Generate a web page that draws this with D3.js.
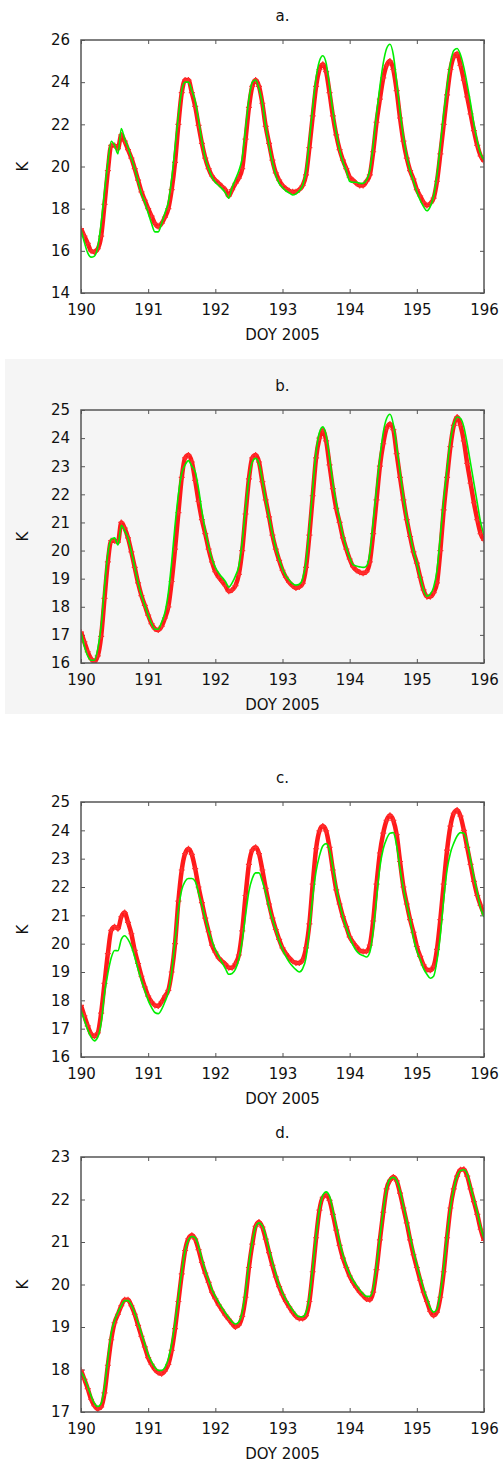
<!DOCTYPE html>
<html>
<head>
<meta charset="utf-8">
<script src="https://cdn.jsdelivr.net/npm/d3@7"></script>
<style>
  body { margin: 0; background: #fff; }
  svg { display: block; }
</style>
</head>
<body>
<svg id="chart" width="503" height="1463"></svg>
<script>
// sampling grid, DOY 190..196 every 0.05 day
const doy = d3.range(121).map(i => +(190 + i * 0.05).toFixed(2));
const xTicks = [190, 191, 192, 193, 194, 195, 196];
const titles = ['a.', 'b.', 'c.', 'd.'];
const xLabel = 'DOY 2005';
const yLabel = 'K';

const yTicksA = [14, 16, 18, 20, 22, 24, 26];
const yTicksB = [16, 17, 18, 19, 20, 21, 22, 23, 24, 25];
const yTicksC = [16, 17, 18, 19, 20, 21, 22, 23, 24, 25];
const yTicksD = [17, 18, 19, 20, 21, 22, 23];

const redA = [17.05,16.7,16.35,16.0,15.95,16.1,16.7,18.2,19.8,21.0,
  21.0,20.85,21.5,21.2,20.8,20.4,19.9,19.35,18.8,18.4,
  18.0,17.65,17.3,17.15,17.3,17.6,18.0,18.9,20.2,22.0,
  23.5,24.1,24.1,23.5,22.85,21.95,21.1,20.4,19.9,19.55,
  19.35,19.2,19.05,18.9,18.6,18.9,19.2,19.45,19.9,21.3,
  22.8,23.8,24.1,23.8,23.0,21.9,21.1,20.3,19.7,19.35,
  19.1,18.95,18.85,18.8,18.8,18.9,19.1,19.6,20.9,22.4,
  23.8,24.6,24.85,24.5,23.5,22.4,21.5,20.8,20.3,19.9,
  19.5,19.35,19.2,19.1,19.1,19.3,19.6,20.7,22.1,23.2,
  24.2,24.8,25.0,24.6,23.6,22.3,21.2,20.4,19.8,19.4,
  18.9,18.6,18.3,18.15,18.25,18.5,19.3,20.6,22.0,23.4,
  24.6,25.2,25.35,24.8,24.1,23.3,22.5,21.7,21.0,20.5,20.25];
const greenA = [17.0,16.4,15.9,15.7,15.75,16.2,17.3,18.8,20.2,21.2,
  21.0,20.6,21.8,21.3,20.9,20.4,19.9,19.3,18.7,18.3,
  17.8,17.3,16.9,16.9,17.3,17.8,18.3,19.4,20.9,22.4,
  23.6,24.0,24.0,23.6,23.1,22.2,21.2,20.4,19.9,19.5,
  19.25,19.1,18.95,18.75,18.5,19.0,19.4,19.8,20.4,21.8,
  23.2,24.0,24.1,23.7,23.0,21.9,21.0,20.2,19.6,19.2,
  19.0,18.85,18.75,18.65,18.7,18.85,19.1,19.8,21.2,22.8,
  24.2,25.0,25.25,24.9,23.8,22.6,21.6,20.8,20.2,19.8,
  19.3,19.25,19.25,19.2,19.2,19.35,19.8,21.0,22.5,23.8,
  24.9,25.6,25.8,25.3,24.0,22.6,21.4,20.5,19.8,19.3,
  18.8,18.4,18.1,17.9,18.1,18.6,19.6,21.0,22.5,23.8,
  24.9,25.5,25.6,25.3,24.7,23.9,23.0,22.0,21.2,20.6,20.3];

const redB = [17.1,16.75,16.4,16.15,16.05,16.25,16.95,18.3,19.6,20.35,
  20.35,20.3,21.0,20.8,20.45,19.95,19.4,18.85,18.4,18.05,
  17.7,17.4,17.22,17.17,17.3,17.6,18.0,18.9,20.05,21.35,
  22.6,23.3,23.4,23.15,22.5,21.75,21.1,20.6,20.05,19.6,
  19.25,19.05,18.9,18.75,18.55,18.6,18.75,19.15,20.0,21.3,
  22.55,23.3,23.4,23.15,22.45,21.8,21.2,20.55,20.05,19.65,
  19.3,19.05,18.87,18.75,18.67,18.7,18.83,19.4,20.55,21.95,
  23.3,24.0,24.28,23.9,23.05,22.2,21.5,21.0,20.45,20.05,
  19.7,19.43,19.3,19.23,19.19,19.25,19.6,20.6,21.8,23.0,
  23.8,24.35,24.5,24.3,23.45,22.6,21.8,21.1,20.5,19.95,
  19.55,19.05,18.6,18.36,18.36,18.5,18.85,20.0,21.45,22.6,
  23.7,24.45,24.75,24.45,23.9,23.1,22.4,21.7,21.1,20.6,20.37];
const greenB = [17.1,16.6,16.25,16.1,16.1,16.5,17.3,18.7,19.9,20.4,
  20.45,20.2,20.9,20.7,20.45,19.95,19.4,18.85,18.4,18.05,
  17.7,17.4,17.2,17.2,17.45,17.8,18.5,19.6,20.9,22.0,
  22.75,23.05,23.2,23.0,22.8,22.2,21.4,20.7,20.15,19.7,
  19.4,19.2,19.05,18.9,18.7,18.85,19.1,19.45,20.3,21.5,
  22.55,23.15,23.28,23.1,22.5,21.8,21.2,20.6,20.1,19.7,
  19.35,19.1,18.95,18.82,18.77,18.8,19.0,19.6,20.8,22.2,
  23.5,24.2,24.4,24.1,23.3,22.4,21.7,21.1,20.55,20.1,
  19.75,19.5,19.45,19.42,19.4,19.45,19.9,21.0,22.2,23.3,
  24.2,24.7,24.85,24.5,23.7,22.8,21.9,21.15,20.55,20.0,
  19.55,19.05,18.6,18.38,18.45,18.7,19.3,20.5,21.8,22.9,
  23.9,24.5,24.75,24.7,24.4,23.8,23.1,22.4,21.7,21.0,20.55];

const redC = [17.82,17.45,17.1,16.82,16.73,16.85,17.55,18.6,19.65,20.47,
  20.6,20.53,20.95,21.1,20.75,20.35,19.76,19.3,18.85,18.47,
  18.15,17.95,17.82,17.8,17.95,18.15,18.35,19.0,20.0,21.5,
  22.6,23.18,23.35,23.15,22.65,22.0,21.45,20.9,20.42,19.95,
  19.7,19.5,19.38,19.28,19.15,19.15,19.3,19.6,20.45,21.7,
  22.8,23.3,23.4,23.18,22.6,21.95,21.4,20.9,20.5,20.15,
  19.85,19.65,19.5,19.38,19.32,19.32,19.43,19.85,20.7,22.1,
  23.35,23.98,24.15,23.98,23.4,22.6,21.9,21.4,20.95,20.6,
  20.24,20.05,19.9,19.76,19.72,19.73,19.95,20.8,22.1,23.2,
  23.9,24.35,24.53,24.35,23.85,22.9,22.0,21.4,20.85,20.4,
  19.9,19.55,19.25,19.08,19.06,19.2,19.8,20.85,22.1,23.3,
  24.15,24.6,24.72,24.5,24.0,23.4,22.8,22.2,21.7,21.35,21.05];
const greenC = [17.65,17.3,16.96,16.7,16.57,16.7,17.2,18.24,18.95,19.5,
  19.76,19.75,20.15,20.28,20.15,19.9,19.53,19.1,18.7,18.35,
  18.0,17.75,17.57,17.53,17.68,17.95,18.28,19.0,20.1,21.2,
  21.9,22.2,22.3,22.3,22.2,21.8,21.35,20.9,20.45,20.1,
  19.78,19.55,19.33,19.12,18.92,18.95,19.1,19.45,20.1,21.0,
  21.85,22.3,22.5,22.5,22.2,21.8,21.3,20.85,20.5,20.1,
  19.8,19.55,19.35,19.2,19.08,19.0,19.12,19.5,20.5,21.65,
  22.55,23.1,23.45,23.53,23.3,22.7,22.0,21.42,20.95,20.55,
  20.24,19.95,19.75,19.63,19.58,19.53,19.7,20.45,21.6,22.7,
  23.35,23.7,23.9,23.92,23.45,22.65,21.95,21.38,20.85,20.2,
  19.75,19.45,19.12,18.92,18.78,18.85,19.4,20.3,21.55,22.6,
  23.2,23.55,23.8,23.92,23.9,23.55,22.95,22.35,21.8,21.25,20.94];

const redD = [17.98,17.77,17.55,17.3,17.15,17.07,17.12,17.45,18.1,18.7,
  19.1,19.3,19.5,19.64,19.64,19.5,19.3,19.04,18.78,18.53,
  18.28,18.12,18.0,17.93,17.9,17.97,18.12,18.45,18.96,19.6,
  20.25,20.8,21.08,21.16,21.07,20.82,20.52,20.27,20.05,19.82,
  19.67,19.52,19.4,19.28,19.18,19.08,19.0,19.05,19.25,19.7,
  20.4,20.95,21.37,21.47,21.35,21.07,20.75,20.45,20.18,19.95,
  19.76,19.6,19.47,19.35,19.25,19.2,19.2,19.27,19.6,20.3,
  21.1,21.75,22.05,22.1,21.98,21.65,21.28,20.92,20.62,20.4,
  20.2,20.05,19.93,19.82,19.74,19.66,19.64,19.82,20.35,21.05,
  21.7,22.25,22.45,22.53,22.44,22.15,21.8,21.45,21.05,20.7,
  20.4,20.1,19.82,19.6,19.37,19.27,19.35,19.7,20.3,21.1,
  21.8,22.25,22.55,22.7,22.71,22.55,22.25,21.95,21.65,21.3,21.04];
const greenD = [17.95,17.8,17.6,17.38,17.2,17.13,17.2,17.6,18.25,18.85,
  19.15,19.35,19.5,19.62,19.62,19.52,19.33,19.1,18.85,18.6,
  18.35,18.18,18.05,17.98,17.98,18.05,18.25,18.6,19.1,19.7,
  20.3,20.8,21.05,21.13,21.1,20.9,20.6,20.33,20.1,19.88,
  19.72,19.58,19.45,19.33,19.22,19.12,19.07,19.12,19.35,19.85,
  20.5,21.0,21.35,21.45,21.38,21.15,20.83,20.52,20.25,20.0,
  19.8,19.65,19.52,19.4,19.3,19.24,19.24,19.35,19.7,20.4,
  21.15,21.75,22.1,22.18,22.08,21.75,21.38,21.0,20.7,20.45,
  20.25,20.1,19.98,19.87,19.78,19.72,19.72,19.9,20.45,21.1,
  21.75,22.25,22.48,22.52,22.45,22.2,21.85,21.5,21.12,20.78,
  20.47,20.17,19.9,19.67,19.45,19.35,19.42,19.8,20.4,21.15,
  21.8,22.25,22.55,22.68,22.7,22.6,22.3,22.0,21.7,21.35,21.08];

const svg = d3.select('#chart');
const font = "'DejaVu Sans', sans-serif";
const frameColor = '#555';
const left = 81, right = 484;

const panels = [
  {title: titles[0], top: 40, bottom: 293, yDomain: [14, 26], yTicks: yTicksA, red: redA, green: greenA},
  {title: titles[1], top: 410, bottom: 663, yDomain: [16, 25], yTicks: yTicksB, red: redB, green: greenB},
  {title: titles[2], top: 802, bottom: 1057, yDomain: [16, 25], yTicks: yTicksC, red: redC, green: greenC},
  {title: titles[3], top: 1157, bottom: 1412, yDomain: [17, 23], yTicks: yTicksD, red: redD, green: greenD}
];

// grey backdrop behind panel b
svg.append('rect')
  .attr('x', 5).attr('y', 359)
  .attr('width', 498).attr('height', 355)
  .attr('fill', '#f5f5f5');

const xScale = d3.scaleLinear().domain([190, 196]).range([left, right]);
const plus = 'M-3,0H3M0,-3V3';
const intFmt = d3.format('d');

panels.forEach((p, k) => {
  const yScale = d3.scaleLinear().domain(p.yDomain).range([p.bottom, p.top]);
  const g = svg.append('g');
  const clipId = 'clip' + k;

  g.append('clipPath').attr('id', clipId)
    .append('rect')
      .attr('x', left).attr('y', p.top)
      .attr('width', right - left).attr('height', p.bottom - p.top);

  const styleAxis = sel => {
    sel.select('.domain').remove();
    sel.selectAll('line').attr('stroke', frameColor).attr('stroke-width', 1);
    sel.selectAll('text').attr('font-family', font).attr('font-size', 15).attr('fill', '#111');
  };

  g.append('g').attr('transform', `translate(${left},0)`)
    .call(d3.axisLeft(yScale).tickValues(p.yTicks).tickSize(-4).tickPadding(11).tickFormat(intFmt))
    .call(styleAxis);
  g.append('g').attr('transform', `translate(${right},0)`)
    .call(d3.axisRight(yScale).tickValues(p.yTicks).tickSize(-4).tickFormat(''))
    .call(styleAxis);
  g.append('g').attr('transform', `translate(0,${p.bottom})`)
    .call(d3.axisBottom(xScale).tickValues(xTicks).tickSize(-4).tickPadding(11).tickFormat(intFmt))
    .call(styleAxis);
  g.append('g').attr('transform', `translate(0,${p.top})`)
    .call(d3.axisTop(xScale).tickValues(xTicks).tickSize(-4).tickFormat(''))
    .call(styleAxis);

  const data = doy.map((d, i) => ({x: d, r: p.red[i], gr: p.green[i]}));
  const plot = g.append('g').attr('clip-path', `url(#${clipId})`);

  const redLine = d3.line().x(d => xScale(d.x)).y(d => yScale(d.r)).curve(d3.curveMonotoneX);
  const greenLine = d3.line().x(d => xScale(d.x)).y(d => yScale(d.gr)).curve(d3.curveMonotoneX);

  plot.append('path').datum(data)
    .attr('d', redLine)
    .attr('fill', 'none')
    .attr('stroke', '#ff1a1a')
    .attr('stroke-width', 4.5)
    .attr('stroke-linejoin', 'round');

  plot.selectAll('path.mark').data(data).enter().append('path')
    .attr('class', 'mark')
    .attr('d', plus)
    .attr('transform', d => `translate(${xScale(d.x)},${yScale(d.r)})`)
    .attr('stroke', '#ff3030')
    .attr('stroke-width', 1.2)
    .attr('fill', 'none');

  plot.append('path').datum(data)
    .attr('d', greenLine)
    .attr('fill', 'none')
    .attr('stroke', '#00ee00')
    .attr('stroke-width', 1.6);

  g.append('rect')
    .attr('x', left).attr('y', p.top)
    .attr('width', right - left).attr('height', p.bottom - p.top)
    .attr('fill', 'none')
    .attr('stroke', frameColor)
    .attr('stroke-width', 1.5);

  g.append('text')
    .attr('x', (left + right) / 2).attr('y', p.top - 19)
    .attr('text-anchor', 'middle')
    .attr('font-family', font).attr('font-size', 15).attr('fill', '#111')
    .text(p.title);

  g.append('text')
    .attr('x', (left + right) / 2).attr('y', p.bottom + 47)
    .attr('text-anchor', 'middle')
    .attr('font-family', font).attr('font-size', 15).attr('fill', '#111')
    .text(xLabel);

  g.append('text')
    .attr('transform', `translate(28,${(p.top + p.bottom) / 2}) rotate(-90)`)
    .attr('text-anchor', 'middle')
    .attr('font-family', font).attr('font-size', 15).attr('fill', '#111')
    .text(yLabel);
});
</script>
</body>
</html>
